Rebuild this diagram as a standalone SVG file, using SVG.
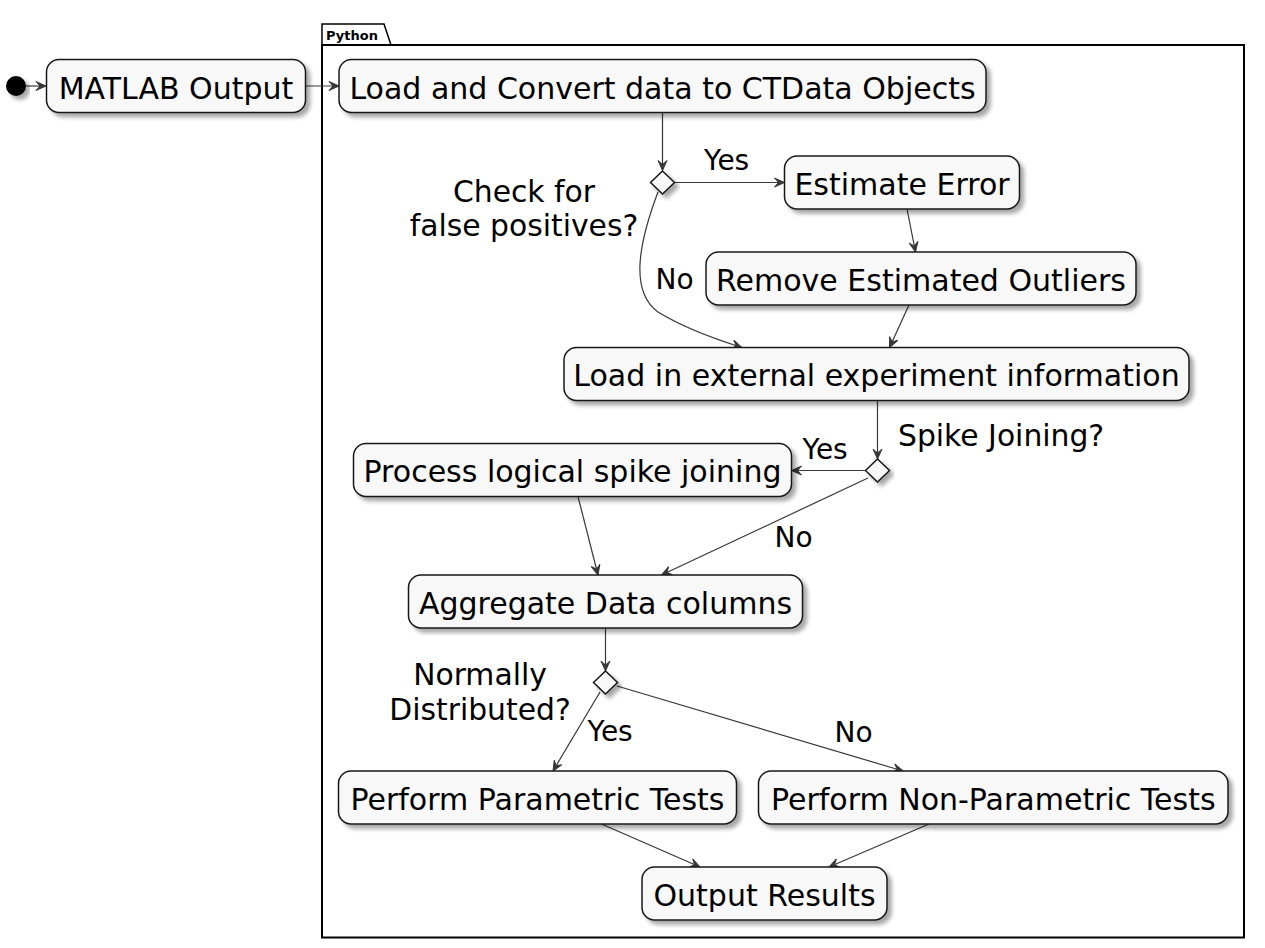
<svg xmlns="http://www.w3.org/2000/svg" width="1265" height="948" viewBox="0 0 1265 948">
<style>
.box{fill:#F8F8F8;stroke:#181818;stroke-width:1.5;filter:url(#sh)}
.dia{fill:#F8F8F8;stroke:#181818;stroke-width:1.5;filter:url(#sh)}
.t{font-family:"DejaVu Sans",sans-serif;font-size:30px;fill:#000;text-anchor:middle}
.c{font-family:"DejaVu Sans",sans-serif;font-size:29.8px;fill:#000}
.l{font-family:"DejaVu Sans",sans-serif;font-size:28px;fill:#000}
.e{fill:none;stroke:#383838;stroke-width:1.2;marker-end:url(#ah)}
</style>
<defs>
<filter id="sh" x="-10%" y="-30%" width="130%" height="180%">
<feGaussianBlur in="SourceAlpha" stdDeviation="2"/>
<feOffset dx="4" dy="4" result="b"/>
<feComponentTransfer><feFuncA type="linear" slope="0.35"/></feComponentTransfer>
<feMerge><feMergeNode/><feMergeNode in="SourceGraphic"/></feMerge>
</filter>
<marker id="ah" viewBox="-11 -6 12 12" refX="0" refY="0" markerWidth="12" markerHeight="12" markerUnits="userSpaceOnUse" orient="auto">
<path d="M0,0 L-10,-4.5 L-6,0 L-10,4.5 Z" fill="#383838" stroke="#383838" stroke-width="1"/>
</marker>
</defs>
<rect width="1265" height="948" fill="#FFFFFF"/>

<g id="package-python">
<path d="M322,45 L322,24 L384,24 L391,45" fill="none" stroke="#000" stroke-width="1.5"/>
<rect x="322" y="45" width="922" height="892.5" fill="none" stroke="#000" stroke-width="2"/>
<text x="326" y="39.5" font-family="DejaVu Sans, sans-serif" font-size="13" font-weight="bold" fill="#000">Python</text>
</g>

<g id="connectors">
<path class="e" d="M26,86 L46,86"/>
<path class="e" d="M306,86 L339,86"/>
<path class="e" d="M662.5,112.5 L662.5,170.5"/>
<path class="e" d="M674.5,182.5 L784.5,182.5"/>
<path class="e" d="M907,209 L915.5,252"/>
<path class="e" d="M909,305 L889.5,347.5"/>
<path class="e" d="M658,192 C638,245 630,292 658,312 C684,328 718,340 742,347.5"/>
<path class="e" d="M877.5,400.5 L877.5,459"/>
<path class="e" d="M865.5,470.5 L791.5,470.5"/>
<path class="e" d="M868,478 L661.5,575"/>
<path class="e" d="M578,496.5 L598,575"/>
<path class="e" d="M605.5,628 L605.5,671"/>
<path class="e" d="M600,692 L553,771"/>
<path class="e" d="M617,686 L903,771"/>
<path class="e" d="M601.5,824 L700,867"/>
<path class="e" d="M929,824 L829,867"/>
</g>

<g id="start"><circle cx="16" cy="86" r="10" fill="#000" filter="url(#sh)"/></g>

<g id="matlab-output"><rect class="box" x="46.5" y="59.5" width="259" height="53" rx="12.5"/><text class="t" x="176" y="98.5">MATLAB Output</text></g>

<g id="load-convert"><rect class="box" x="339" y="59.5" width="647" height="53" rx="12.5"/><text class="t" x="662.5" y="98.5">Load and Convert data to CTData Objects</text></g>

<g id="decision-false-positives">
<polygon class="dia" points="662.5,171 674.5,182.5 662.5,194 650.5,182.5"/>
<text class="c" x="524" y="201.5" text-anchor="middle">Check for</text>
<text class="c" x="524" y="236" text-anchor="middle">false positives?</text>
<text class="l" x="704" y="170">Yes</text>
<text class="l" x="655.5" y="288.5">No</text>
</g>

<g id="estimate-error"><rect class="box" x="784.5" y="156" width="235" height="53" rx="12.5"/><text class="t" x="902" y="194.5">Estimate Error</text></g>

<g id="remove-outliers"><rect class="box" x="706" y="252" width="430" height="53" rx="12.5"/><text class="t" x="921" y="290.5">Remove Estimated Outliers</text></g>

<g id="load-external"><rect class="box" x="564" y="347.5" width="625" height="53" rx="12.5"/><text class="t" x="876.5" y="386">Load in external experiment information</text></g>

<g id="decision-spike">
<polygon class="dia" points="877.5,459 889.5,470.5 877.5,482 865.5,470.5"/>
<text class="c" x="898" y="445.5">Spike Joining?</text>
<text class="l" x="802.5" y="459">Yes</text>
<text class="l" x="774.5" y="546.5">No</text>
</g>

<g id="process-spike"><rect class="box" x="353.5" y="443.5" width="438" height="53" rx="12.5"/><text class="t" x="572.5" y="482">Process logical spike joining</text></g>

<g id="aggregate"><rect class="box" x="408.5" y="575" width="394" height="53" rx="12.5"/><text class="t" x="605.5" y="613.5">Aggregate Data columns</text></g>

<g id="decision-normal">
<polygon class="dia" points="605.5,671 617.5,682.5 605.5,694 593.5,682.5"/>
<text class="c" x="480" y="685" text-anchor="middle">Normally</text>
<text class="c" x="480" y="719.5" text-anchor="middle">Distributed?</text>
<text class="l" x="587.5" y="741">Yes</text>
<text class="l" x="834.5" y="741.5">No</text>
</g>

<g id="parametric"><rect class="box" x="338.5" y="771" width="398" height="53" rx="12.5"/><text class="t" x="537.5" y="809.5">Perform Parametric Tests</text></g>

<g id="non-parametric"><rect class="box" x="758.5" y="771" width="469.5" height="53" rx="12.5"/><text class="t" x="993.25" y="809.5">Perform Non-Parametric Tests</text></g>

<g id="output-results"><rect class="box" x="642" y="867" width="245" height="53" rx="12.5"/><text class="t" x="764.5" y="905.5">Output Results</text></g>
</svg>
